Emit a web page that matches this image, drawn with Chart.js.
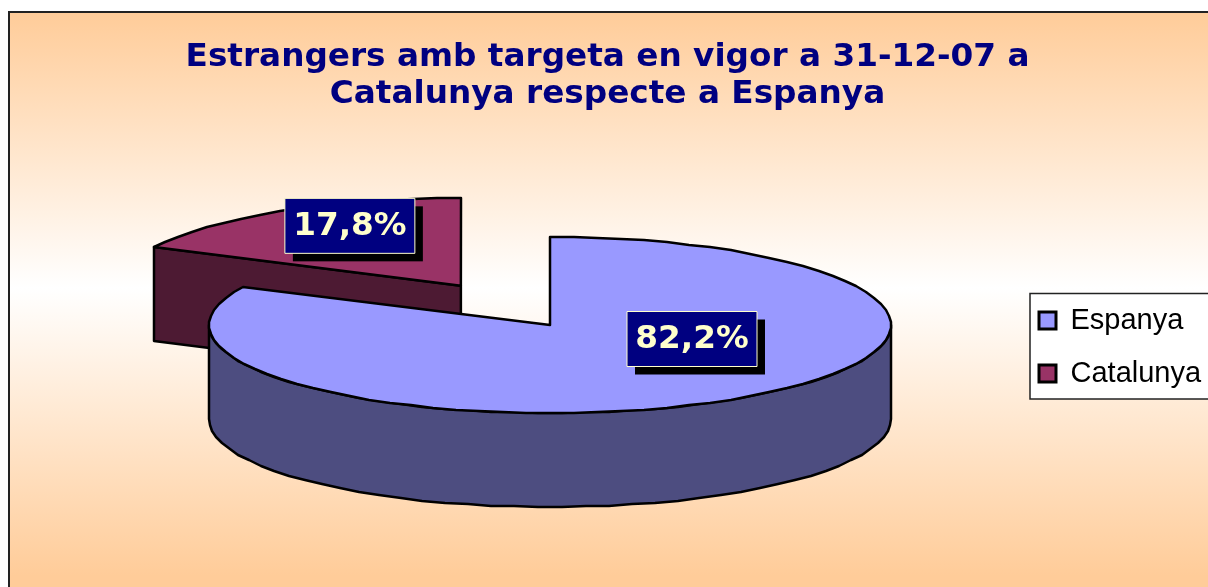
<!DOCTYPE html>
<html>
<head>
<meta charset="utf-8">
<title>Estrangers amb targeta</title>
<script src="https://cdn.jsdelivr.net/npm/chart.js@4"></script>
<style>
  html, body { margin: 0; padding: 0; background: #fff; overflow: hidden; }
  canvas { display: block; }
</style>
</head>
<body>
<canvas id="pieChart" width="1208" height="587"></canvas>
<script>
const categories = ['Espanya', 'Catalunya'];
const shares = [82.2, 17.8];
const titleLines = ['Estrangers amb targeta en vigor a 31-12-07 a', 'Catalunya respecte a Espanya'];

const topColors = ['#9999FF', '#993366'];
const wallColors = ['#4D4D80', '#4D1A33'];
const explode = [0, 168];

// layout of the fake 3D pie
const plotBox = { left: 209, right: 891, top: 0, bottom: 650 };
const tilt = 0.258;
const explodeTilt = 0.275;
const depth = 94;
const rimStep = Math.PI / 45;
const labelShift = [{ x: 142, y: 14 }, { x: -111, y: -60 }];
const frame = { x: 9, y: 12 };
const legendBox = { left: 1030, top: 293.5, right: 1220, bottom: 399 };

const fakeThreeD = {
  id: 'fakeThreeD',
  afterLayout(chart) {
    Object.assign(chart.chartArea, plotBox);
    chart.chartArea.width = plotBox.right - plotBox.left;
    chart.chartArea.height = plotBox.bottom - plotBox.top;
    chart.legend.left = 1015;
    chart.legend.top = 282;
    chart.titleBlock.left = 7;
  },
  beforeDraw(chart) {
    const { ctx, width, height } = chart;
    const bg = ctx.createLinearGradient(0, frame.y, 0, height);
    bg.addColorStop(0, '#FFCC99');
    bg.addColorStop(0.48, '#FFFFFF');
    bg.addColorStop(0.98, '#FFCC99');
    ctx.save();
    ctx.fillStyle = '#fff';
    ctx.fillRect(0, 0, width, height);
    ctx.fillStyle = bg;
    ctx.fillRect(frame.x, frame.y, width, height);
    ctx.strokeStyle = '#222';
    ctx.lineWidth = 2;
    ctx.strokeRect(frame.x, frame.y, width + 10, height + 10);

    ctx.fillStyle = '#fff';
    ctx.strokeStyle = '#222';
    ctx.lineWidth = 1.5;
    ctx.fillRect(legendBox.left, legendBox.top, legendBox.right - legendBox.left, legendBox.bottom - legendBox.top);
    ctx.strokeRect(legendBox.left, legendBox.top, legendBox.right - legendBox.left, legendBox.bottom - legendBox.top);
    ctx.restore();
  },
  beforeDatasetsDraw(chart) {
    const { ctx } = chart;
    const arcs = chart.getDatasetMeta(0).data;
    ctx.save();
    ctx.lineWidth = 2.5;
    ctx.lineJoin = 'round';
    ctx.strokeStyle = '#000';
    // back slice first so the big one covers it
    for (let i = arcs.length - 1; i >= 0; i--) drawSlice(ctx, arcs[i], i);
    for (let i = 0; i < arcs.length; i++) drawValueLabel(ctx, arcs[i], i);
    ctx.restore();
    return false;
  },
};

function sliceCentre(arc, i) {
  const mid = (arc.startAngle + arc.endAngle) / 2;
  return {
    x: arc.x + Math.cos(mid) * explode[i],
    y: arc.y + Math.sin(mid) * explode[i] * explodeTilt,
  };
}

function rimPoint(arc, c, angle) {
  return {
    x: Math.round(c.x + Math.cos(angle) * arc.outerRadius),
    y: Math.round(c.y + Math.sin(angle) * arc.outerRadius * tilt),
  };
}

function rimPoints(arc, c, from, to) {
  const pts = [];
  for (let a = from; a < to; a += rimStep) pts.push(rimPoint(arc, c, a));
  pts.push(rimPoint(arc, c, to));
  return pts;
}

function fillPath(ctx, pts, color) {
  ctx.beginPath();
  pts.forEach((p, n) => (n ? ctx.lineTo(p.x, p.y) : ctx.moveTo(p.x, p.y)));
  ctx.closePath();
  ctx.fillStyle = color;
  ctx.fill();
  ctx.stroke();
}

function drawSlice(ctx, arc, i) {
  const c = sliceCentre(arc, i);
  const start = arc.startAngle;
  const end = arc.endAngle;
  const wall = wallColors[i];
  const down = p => ({ x: p.x, y: p.y + depth });

  // cut faces, only those turned to the viewer
  [[start, start - Math.PI / 2], [end, end + Math.PI / 2]].forEach(([a, normal]) => {
    if (Math.sin(normal) > 0.01) {
      const rim = rimPoint(arc, c, a);
      fillPath(ctx, [c, rim, down(rim), down(c)], wall);
    }
  });

  // front part of the outer wall (canvas angles 0..PI)
  const from = Math.max(start, 0);
  const to = Math.min(end, Math.PI);
  if (to > from) {
    const rim = rimPoints(arc, c, from, to);
    fillPath(ctx, rim.concat(rim.map(down).reverse()), wall);
  }

  // top face
  fillPath(ctx, [c].concat(rimPoints(arc, c, start, end)), topColors[i]);
}

function drawValueLabel(ctx, arc, i) {
  const c = sliceCentre(arc, i);
  const text = shares[i].toFixed(1).replace('.', ',') + '%';
  const x = c.x + labelShift[i].x;
  const y = c.y + labelShift[i].y;
  const w = 130;
  const h = 55;
  ctx.fillStyle = '#000';
  ctx.fillRect(x - w / 2 + 8, y - h / 2 + 8, w, h);
  ctx.fillStyle = '#000080';
  ctx.fillRect(x - w / 2, y - h / 2, w, h);
  ctx.lineWidth = 1;
  ctx.strokeStyle = '#FFFFCC';
  ctx.strokeRect(x - w / 2, y - h / 2, w, h);
  ctx.fillStyle = '#FFFFCC';
  ctx.font = 'bold 32.7px "DejaVu Sans"';
  ctx.textAlign = 'center';
  ctx.textBaseline = 'middle';
  ctx.fillText(text, x, y + 1);
  ctx.lineWidth = 2.5;
  ctx.strokeStyle = '#000';
}

new Chart(document.getElementById('pieChart'), {
  type: 'pie',
  data: {
    labels: categories,
    datasets: [{
      data: shares,
      backgroundColor: topColors,
      borderColor: '#000',
      borderWidth: 3,
      radius: 341,
    }],
  },
  options: {
    responsive: false,
    animation: false,
    radius: 341,
    plugins: {
      tooltip: { enabled: false },
      title: {
        display: true,
        text: titleLines,
        color: '#000080',
        font: { family: '"DejaVu Sans"', weight: 'bold', size: 32.7, lineHeight: 1.14 },
        padding: { top: 39, bottom: 10 },
      },
      legend: {
        position: 'right',
        align: 'start',
        labels: {
          color: '#000',
          font: { family: '"Liberation Sans"', size: 29 },
          boxWidth: 17,
          boxHeight: 17,
          padding: 24,
        },
      },
    },
  },
  plugins: [fakeThreeD],
});
</script>
</body>
</html>
